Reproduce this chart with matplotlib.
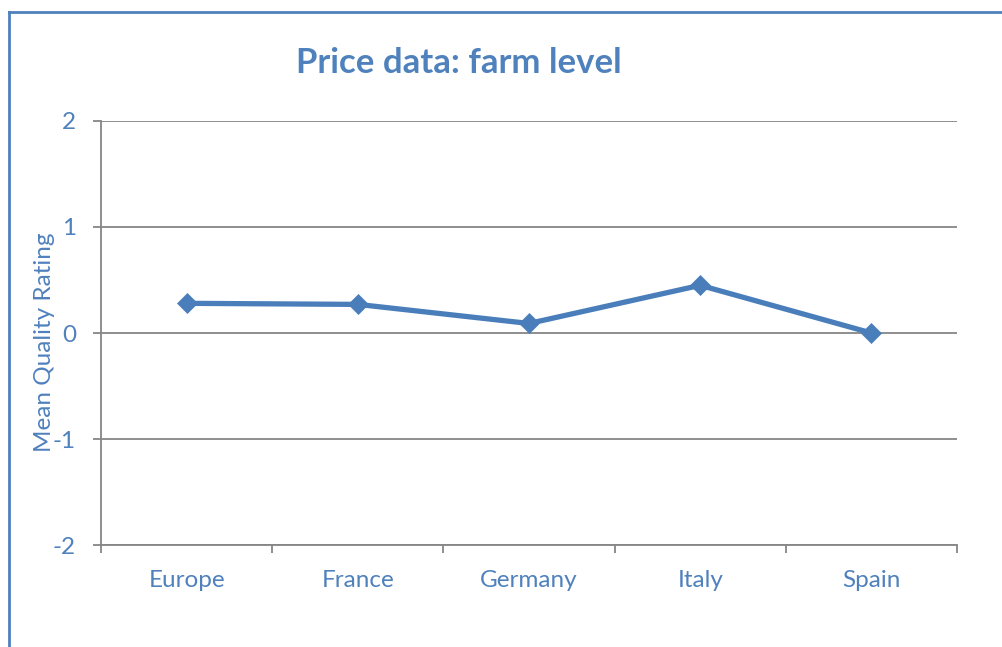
import numpy as np
import matplotlib
matplotlib.use("Agg")
import matplotlib.pyplot as plt
from matplotlib.lines import Line2D

countries = ["Europe", "France", "Germany", "Italy", "Spain"]
mean_quality = [0.28, 0.27, 0.09, 0.45, 0.00]
y_ticks = [-2, -1, 0, 1, 2]

text_blue = "#4F81BD"
line_blue = "#4A7EBB"
grid_gray = "#868686"

plt.rcParams['font.family'] = ['Lato', 'DejaVu Sans']
plt.rcParams['axes.unicode_minus'] = False

fig = plt.figure(figsize=(10.02, 6.47), dpi=100)
ax = fig.add_axes([0.1008, 0.1576, 0.8543, 0.6554])

x = np.arange(len(countries))
ax.plot(x, mean_quality, color=line_blue, lw=3.8, marker='D', ms=10.5,
        mec=line_blue, mew=0.5, zorder=3, clip_on=False)

ax.set_xlim(-0.5, len(countries) - 0.5)
ax.set_ylim(-2, 2)

# y axis
ax.set_yticks(y_ticks)
ax.yaxis.grid(True, color=grid_gray, lw=1.3)
ax.tick_params(axis='y', direction='out', length=6, width=1.3, color=grid_gray,
               labelcolor=text_blue, labelsize=17.5, pad=12)

# x axis: ticks at category boundaries, labels at centres
ax.set_xticks(np.arange(-0.5, len(countries), 1.0))
ax.set_xticklabels([])
ax.set_xticks(x, minor=True)
ax.set_xticklabels(countries, minor=True)
ax.tick_params(axis='x', which='major', direction='out', length=6, width=1.3,
               color=grid_gray)
ax.tick_params(axis='x', which='minor', length=0, labelcolor=text_blue,
               labelsize=17.5, pad=18)

for s in ['top', 'right']:
    ax.spines[s].set_visible(False)
for s in ['left', 'bottom']:
    ax.spines[s].set_color(grid_gray)
    ax.spines[s].set_linewidth(1.3)
ax.set_axisbelow(True)

ax.set_ylabel("Mean Quality Rating", color=text_blue, fontsize=17.5,
              va='center')
ax.yaxis.set_label_coords(-0.066, 0.479)

fig.text(0.458, 0.902, "Price data: farm level", color=text_blue, fontsize=25,
         fontweight='bold', ha='center', va='center')

# chart border (left and top edges visible)
fig.add_artist(Line2D([0.0087, 0.0087], [0, 0.982], transform=fig.transFigure,
                      color=text_blue, lw=2))
fig.add_artist(Line2D([0.0087, 1.0], [0.982, 0.982], transform=fig.transFigure,
                      color=text_blue, lw=2))

fig.savefig("out.png", dpi=100)
